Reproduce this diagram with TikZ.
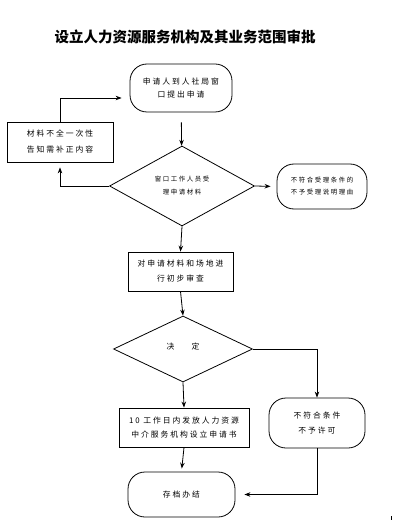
\documentclass[tikz,border=0pt]{standalone}
\usepackage{fontspec}
\newfontfamily\cjk[LetterSpace=25]{Noto Sans CJK SC}
\newfontfamily\cjktitle{Noto Sans CJK SC}
\usetikzlibrary{arrows.meta,shapes.geometric,calc}

\begin{document}
\begin{tikzpicture}[x=1pt,y=-1pt,>={Stealth[length=6pt,width=4.5pt]},
	every node/.style={align=center,inner sep=0pt},
	base/.style={draw,line width=0.8pt,font=\cjk\fontsize{7.8}{14}\selectfont},
	box/.style={base,rectangle},
	roundbox/.style={base,rectangle,rounded corners=17pt},
	decision/.style={base,diamond},
	small/.style={font=\cjk\fontsize{6.4}{13}\selectfont},
	flow/.style={line width=0.8pt,->}]
	
	\useasboundingbox (0,0) rectangle (418,521);
	
	% Title
	\node[font=\cjktitle\bfseries\fontsize{14.5}{16}\selectfont] (title) at (185,37) {设立人力资源服务机构及其业务范围审批};
	
	% Acceptance stage
	\node[roundbox,minimum width=102pt,minimum height=48pt,font=\cjk\fontsize{7.8}{13}\selectfont] (start) at (181,88) {申请人到人社局窗\\口提出申请};
	\node[box,minimum width=106pt,minimum height=40pt,font=\cjk\fontsize{7.8}{16}\selectfont] (fix) at (60,142) {材料不全一次性\\告知需补正内容};
	\node[decision,small,minimum width=145pt,minimum height=80pt] (check) at (182,186) {窗口工作人员受\\理申请材料};
	\node[roundbox,small,minimum width=90pt,minimum height=45pt,font=\cjk\fontsize{6.4}{12}\selectfont] (notaccept) at (322,186.5) {不符合受理条件的\\不予受理说明理由};
	
	% Review and decision
	\node[box,minimum width=105pt,minimum height=39pt,font=\cjk\fontsize{7.8}{15}\selectfont] (review) at (180.5,271.5) {对申请材料和场地进\\行初步审查};
	\node[decision,minimum width=139pt,minimum height=66pt] (decide) at (183,349) {\raisebox{6pt}{决\hspace{2.2em}定}};
	\node[box,minimum width=130pt,minimum height=39pt] (issue) at (184,427.5) {10 工作日内发放人力资源\\中介服务机构设立申请书};
	\node[roundbox,minimum width=96pt,minimum height=50pt,font=\cjk\fontsize{7.8}{15}\selectfont] (reject) at (317,423) {不符合条件\\不予许可};
	\node[roundbox,minimum width=107pt,minimum height=45pt] (archive) at (181.5,494.5) {存档办结};
	
	% Connectors
	\draw[flow,shorten <=10pt] (start) -- (check);
	\draw[flow] (fix.north) |- ($(start.west)+(-8,10)$);
	\draw[flow] (check.west) -| ($(fix.south)+(0,5)$);
	\draw[flow,shorten >=6pt] (check.east) -- (notaccept.west);
	\draw[flow] (check.south) -- (review.north);
	\draw[flow] (review.south) -- (decide.north);
	\draw[flow] (decide.east) -| (reject.north);
	\draw[flow] (decide.south) -- (issue.north);
	\draw[flow,shorten >=3pt] (issue.south) -- (archive.north);
	\draw[flow] (reject.south) |- ($(archive.east)+(9,0)$);
	
	% stray mark at bottom right
	\fill (390.5,516) rectangle (392,520);
	
\end{tikzpicture}
\end{document}
